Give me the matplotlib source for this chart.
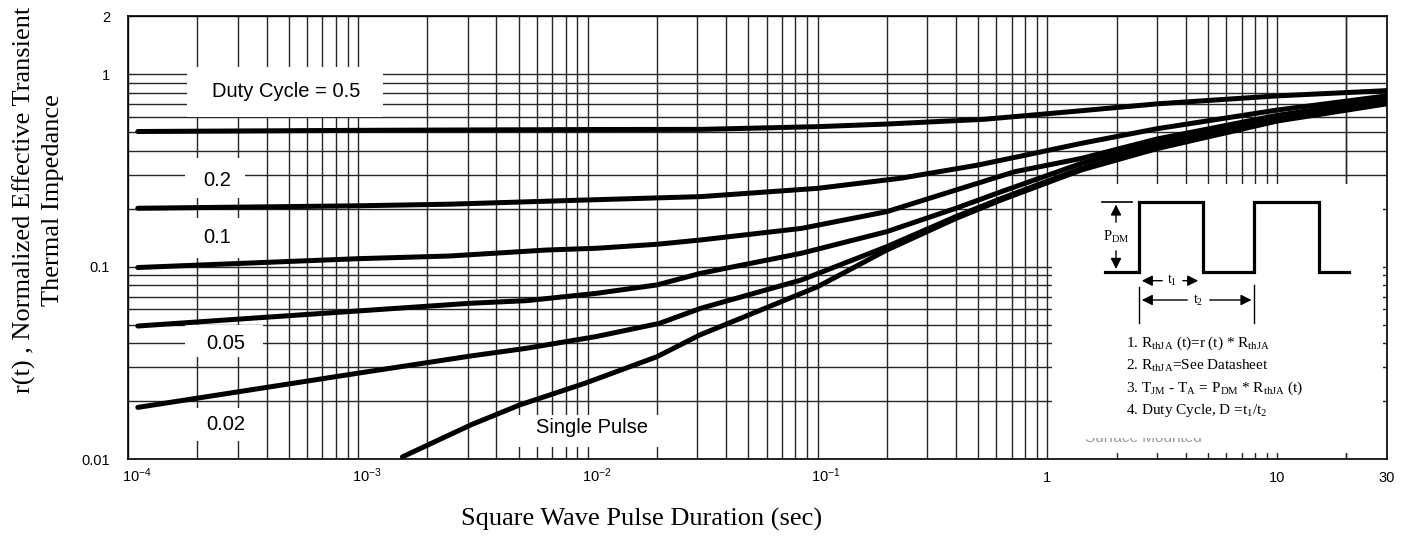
import numpy as np
import matplotlib
matplotlib.use("Agg")
import matplotlib.pyplot as plt
from matplotlib.patches import Rectangle
from matplotlib.ticker import FixedLocator, NullFormatter

plt.rcParams['mathtext.fontset'] = 'custom'
plt.rcParams['mathtext.rm'] = 'Liberation Serif'
plt.rcParams['mathtext.sf'] = 'Liberation Sans'

# ---- data (t in sec, r(t)) ----
t_05 = [1.1e-4, 1e-3, 1e-2, 3.1e-2, 0.1, 0.2, 0.53, 1.41, 3, 10, 30]
r_05 = [0.503, 0.51, 0.515, 0.516, 0.533, 0.55, 0.582, 0.645, 0.70, 0.77, 0.82]

t_02 = [1.1e-4, 1e-3, 2.5e-3, 1e-2, 3.1e-2, 0.1, 0.231, 0.5, 0.88, 1.41, 3, 10, 30]
r_02 = [0.201, 0.207, 0.211, 0.222, 0.231, 0.255, 0.288, 0.337, 0.388, 0.437, 0.52, 0.65, 0.77]

t_01 = [1.1e-4, 1e-3, 2.5e-3, 6.6e-3, 1.09e-2, 2e-2, 3.1e-2, 8.5e-2, 0.2, 0.4, 0.72, 1.41, 3, 10, 30]
r_01 = [0.099, 0.11, 0.1136, 0.122, 0.1246, 0.1307, 0.1376, 0.158, 0.193, 0.25, 0.311, 0.365, 0.46, 0.61, 0.74]

t_005 = [1.1e-4, 1e-3, 3.1e-3, 5.4e-3, 1.09e-2, 2e-2, 3.1e-2, 8.5e-2, 0.2, 0.4, 0.63, 1.41, 3, 10, 30]
r_005 = [0.0492, 0.0589, 0.0646, 0.0666, 0.0727, 0.0804, 0.0924, 0.1174, 0.152, 0.201, 0.245, 0.344, 0.44, 0.59, 0.72]

t_002 = [1.1e-4, 1e-3, 3.1e-3, 5.4e-3, 1.09e-2, 2.05e-2, 3.1e-2, 8.5e-2, 0.2, 0.4, 0.63, 1.41, 3, 10, 30]
r_002 = [0.0186, 0.028, 0.0344, 0.0377, 0.0434, 0.0508, 0.0608, 0.0853, 0.127, 0.182, 0.226, 0.324, 0.42, 0.58, 0.71]

t_sp = [1.56e-3, 3.1e-3, 5.05e-3, 9.7e-3, 2e-2, 3.07e-2, 5.67e-2, 0.1, 0.2, 0.4, 0.63, 1.41, 3, 10, 30]
r_sp = [0.0103, 0.0151, 0.01915, 0.0248, 0.0341, 0.0442, 0.0596, 0.0787, 0.122, 0.178, 0.222, 0.318, 0.41, 0.57, 0.70]

x_major = [1e-4, 1e-3, 1e-2, 1e-1, 1, 10, 30]
x_labels = [r'$\mathsf{10^{-4}}$', r'$\mathsf{10^{-3}}$', r'$\mathsf{10^{-2}}$',
            r'$\mathsf{10^{-1}}$', '1', '10', '30']
y_major = [0.01, 0.1, 1, 2]
y_labels = ['0.01', '0.1', '1', '2']

fig = plt.figure(figsize=(14.11, 5.43), dpi=100)
ax = fig.add_axes([0.09093, 0.1541, 0.8919, 0.8164])
ax.set_xscale('log')
ax.set_yscale('log')
ax.set_xlim(1e-4, 30)
ax.set_ylim(0.01, 2)

x_minor = [m * 10.0 ** d for d in range(-4, 2) for m in range(2, 10)] + [20]
y_minor = [m * 10.0 ** d for d in (-2, -1) for m in range(2, 10)]
ax.xaxis.set_major_locator(FixedLocator(x_major))
ax.xaxis.set_minor_locator(FixedLocator(x_minor))
ax.yaxis.set_major_locator(FixedLocator(y_major))
ax.yaxis.set_minor_locator(FixedLocator(y_minor))
ax.xaxis.set_major_formatter(NullFormatter())
ax.set_yticklabels(y_labels, fontfamily='Liberation Sans', fontsize=10.5)
ax.xaxis.set_minor_formatter(NullFormatter())
ax.yaxis.set_minor_formatter(NullFormatter())
ax.tick_params(which='both', length=0)
ax.tick_params(axis='y', pad=13)

# x tick labels: the "10" sits on the tick, exponent hangs to the right
for xv, lab in zip(x_major, x_labels):
    sup = lab.startswith('$')
    ax.annotate(lab, xy=(xv, 0), xycoords=('data', 'axes fraction'),
                xytext=(-4.5 if sup else 0, -16.5), textcoords='offset points',
                ha='left' if sup else 'center', va='baseline',
                fontsize=10.5, fontfamily='Liberation Sans', annotation_clip=False)

ax.set_axisbelow(True)
ax.grid(True, which='both', color='#262626', lw=1.0)
for s in ax.spines.values():
    s.set_linewidth(1.2)

for t, r in [(t_05, r_05), (t_02, r_02), (t_01, r_01), (t_005, r_005), (t_002, r_002), (t_sp, r_sp)]:
    ax.plot(t, r, color='black', lw=3.6, solid_capstyle='round', zorder=4)


# reference pixel -> axes fraction
def to_ax(xp, yp):
    return (xp - 128.3) / 1258.5, (459.3 - yp) / 443.3


def label_box(x0, y0, x1, y1, text, xt, yt, ha='left'):
    ax0, ay1 = to_ax(x0, y1)
    ax1, ay0 = to_ax(x1, y0)
    ax.add_patch(Rectangle((ax0, ay1), ax1 - ax0, ay0 - ay1, transform=ax.transAxes,
                           facecolor='white', edgecolor='none', zorder=2))
    tx, ty = to_ax(xt, yt)
    ax.text(tx, ty, text, transform=ax.transAxes, ha=ha, va='center',
            fontsize=14.5, fontfamily='Liberation Sans', zorder=5)


label_box(187, 67, 383, 117, 'Duty Cycle = 0.5', 286, 91, ha='center')
label_box(185, 158, 245, 198, '0.2', 203, 180)
label_box(185, 218, 245, 258, '0.1', 203, 237)
label_box(185, 325, 263, 357, '0.05', 206, 343)
label_box(185, 408, 263, 441, '0.02', 206, 424)
label_box(510, 415, 662, 447, 'Single Pulse', 592, 427, ha='center')

# axis titles
fig.text(0.455, 0.043, 'Square Wave Pulse Duration (sec)', ha='center', va='center',
         fontsize=19, fontfamily='Liberation Serif')
fig.text(0.0175, 0.632, 'r(t) , Normalized Effective Transient', rotation=90,
         ha='center', va='center', fontsize=19, fontfamily='Liberation Serif')
fig.text(0.0375, 0.632, 'Thermal Impedance', rotation=90,
         ha='center', va='center', fontsize=19, fontfamily='Liberation Serif')

# ---- inset with the pulse diagram and notes ----
ins = fig.add_axes([1052 / 1411, (543 - 453) / 543, 331 / 1411, 269 / 543])
ins.set_xlim(0, 331)
ins.set_ylim(269, 0)
ins.set_facecolor('white')
ins.set_zorder(3)
for s in ins.spines.values():
    s.set_visible(False)
ins.set_xticks([])
ins.set_yticks([])

wave_x = [53, 87, 87, 151.3, 151.3, 202.3, 202.3, 267.3, 267.3, 297.3]
wave_y = [87.7, 87.7, 17.7, 17.7, 87.7, 87.7, 17.7, 17.7, 87.7, 87.7]
ins.plot(wave_x, wave_y, color='black', lw=2.3, solid_joinstyle='miter')
ins.plot([49.7, 79.7], [17.7, 17.7], color='black', lw=1.2)

arr = dict(arrowstyle='-|>', color='black', lw=1.0, mutation_scale=16)
ins.annotate('', xy=(64, 17.7), xytext=(64, 41), arrowprops=arr)
ins.annotate('', xy=(64, 87.7), xytext=(64, 64), arrowprops=arr)
ins.text(64, 52.7, r'P$_{\mathrm{DM}}$', ha='center', va='center', fontsize=10.5,
         fontfamily='Liberation Serif')

ins.annotate('', xy=(87, 96.7), xytext=(113, 96.7), arrowprops=arr)
ins.annotate('', xy=(149, 96.7), xytext=(128, 96.7), arrowprops=arr)
ins.text(120.5, 96.7, r't$_{\mathrm{1}}$', ha='center', va='center', fontsize=10,
         fontfamily='Liberation Serif')

ins.annotate('', xy=(87, 116), xytext=(138, 116), arrowprops=arr)
ins.annotate('', xy=(202.3, 116), xytext=(155, 116), arrowprops=arr)
ins.text(146.5, 116, r't$_{\mathrm{2}}$', ha='center', va='center', fontsize=10,
         fontfamily='Liberation Serif')
ins.plot([87, 87], [102.7, 139.3], color='black', lw=1.0)
ins.plot([202.3, 202.3], [101, 139.3], color='black', lw=1.0)

notes = [r'1. R$_{\mathrm{thJA}}$ (t)=r (t) * R$_{\mathrm{thJA}}$',
         r'2. R$_{\mathrm{thJA}}$=See Datasheet',
         r'3. T$_{\mathrm{JM}}$ - T$_{\mathrm{A}}$ = P$_{\mathrm{DM}}$ * R$_{\mathrm{thJA}}$ (t)',
         r'4. Duty Cycle, D =t$_{\mathrm{1}}$/t$_{\mathrm{2}}$']
for i, n in enumerate(notes):
    ins.text(74, 159.3 + i * 22.3, n, ha='left', va='center', fontsize=11,
             fontfamily='Liberation Serif')

# half-erased note at the bottom of the inset
ins.text(23, 258, '* Surface Mounted', ha='left', va='baseline', fontsize=11,
         fontfamily='Liberation Sans', color='#999999')
ins.add_patch(Rectangle((15, 235), 180, 18.5, facecolor='white', edgecolor='none', zorder=5))

fig.savefig('out.png', dpi=100)
